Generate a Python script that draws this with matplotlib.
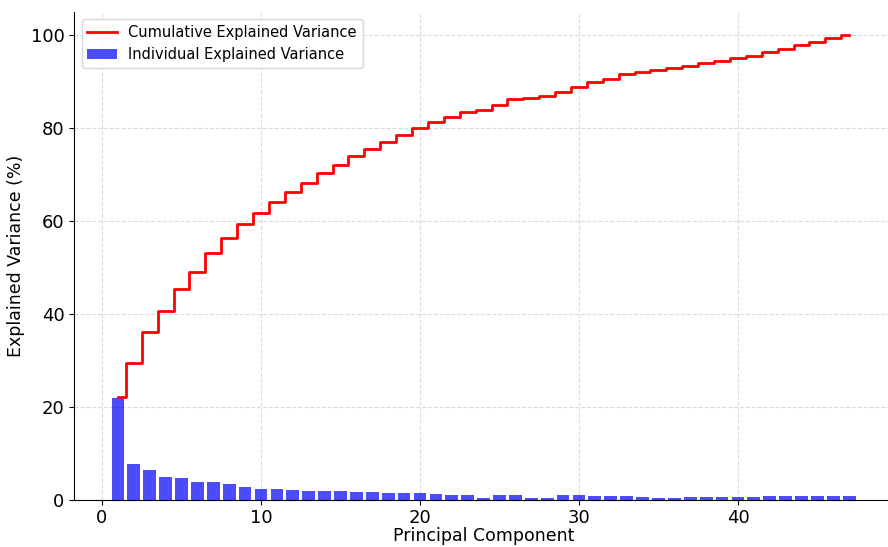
import numpy as np
import matplotlib
matplotlib.use('Agg')
import matplotlib.pyplot as plt

# values
components = np.arange(1, 48)
individual = [21.8, 7.6, 6.4, 4.8, 4.6, 3.9, 3.9, 3.3, 2.8, 2.4,
              2.3, 2.15, 1.95, 1.9, 1.8, 1.65, 1.6, 1.45, 1.45, 1.4,
              1.3, 1.1, 1.1, 0.4, 1.1, 1.1, 0.35, 0.35, 1.0, 1.0,
              0.9, 0.9, 0.9, 0.5, 0.45, 0.45, 0.5, 0.5, 0.55, 0.55,
              0.55, 0.7, 0.8, 0.8, 0.75, 0.75, 0.75]
cumulative = [22.0, 29.5, 36.0, 40.7, 45.3, 49.1, 53.0, 56.4, 59.3, 61.8,
              64.0, 66.2, 68.2, 70.3, 72.1, 73.9, 75.5, 77.0, 78.6, 80.0,
              81.2, 82.4, 83.5, 83.9, 85.0, 86.2, 86.5, 86.8, 87.8, 88.8,
              89.8, 90.6, 91.6, 92.1, 92.5, 92.9, 93.4, 93.9, 94.5, 95.1,
              95.6, 96.3, 97.1, 97.9, 98.6, 99.4, 100.0]

fig = plt.figure(figsize=(8.88, 5.47), dpi=100)
# the reference is cropped: axes run past the right edge
ax = fig.add_axes([0.0837, 0.0865, 0.9217, 0.8918])

ax.bar(components, individual, color='blue', alpha=0.7, label='Individual Explained Variance')
ax.step(components, cumulative, where='mid', color='red', linewidth=2, label='Cumulative Explained Variance')

ax.set_xlabel('Principal Component', fontsize=12.5, labelpad=0)
ax.set_ylabel('Explained Variance (%)', fontsize=12.5)
ax.tick_params(labelsize=13)
ax.spines['top'].set_visible(False)
ax.spines['right'].set_visible(False)
ax.grid(True, linestyle='--', color='lightgray', alpha=0.8)
ax.set_axisbelow(True)
ax.legend(loc='upper left', fontsize=10.5)

plt.savefig('out.png', dpi=100)
